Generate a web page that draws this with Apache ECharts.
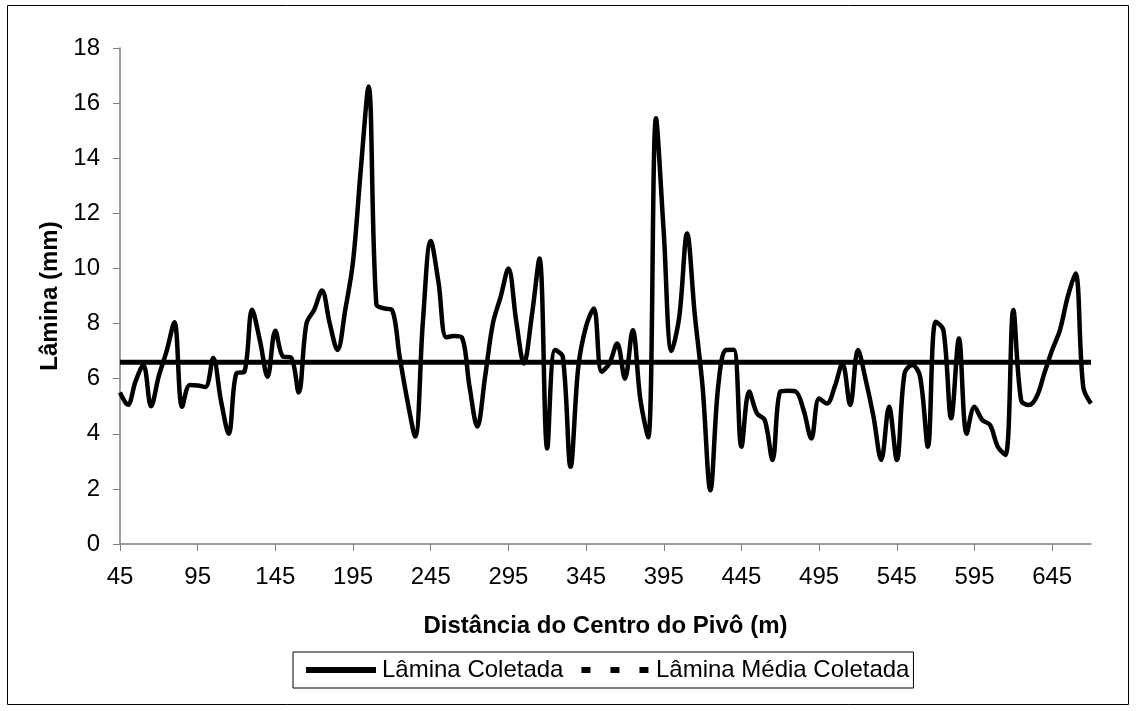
<!DOCTYPE html>
<html>
<head>
<meta charset="utf-8">
<script src="https://cdn.jsdelivr.net/npm/echarts@6/dist/echarts.min.js"></script>
<style>
  html, body { margin: 0; padding: 0; background: #fff; }
  #chart { width: 1136px; height: 711px; }
</style>
</head>
<body>
<div id="chart"></div>
<script>
// distância do centro do pivô (m), de 5 em 5
var distancias = [];
for (var d = 45; d <= 670; d += 5) distancias.push(String(d));

// lâmina coletada (mm)
var laminaColetada = [
  5.5, 5.05, 5.9, 6.5, 5.0, 6.1, 7.0, 8.05, 4.98, 5.77,
  5.75, 5.7, 6.75, 5.2, 4.0, 6.2, 6.25, 8.5, 7.4, 6.07,
  7.74, 6.8, 6.77, 5.5, 8.0, 8.5, 9.2, 8.0, 7.04, 8.5,
  10.25, 13.6, 16.6, 8.7, 8.55, 8.5, 6.8, 5.2, 3.9, 8.1,
  11.0, 9.5, 7.5, 7.55, 7.5, 5.7, 4.26, 6.07, 8.0, 8.97,
  10.0, 8.1, 6.55, 8.25, 10.36, 3.47, 7.04, 6.8, 2.8, 6.43,
  7.9, 8.55, 6.25, 6.55, 7.28, 6.0, 7.76, 5.22, 3.87, 15.45,
  11.3, 7.0, 8.25, 11.27, 8.3, 5.7, 1.95, 5.7, 7.04, 7.05,
  3.53, 5.53, 4.74, 4.5, 3.05, 5.53, 5.56, 5.53, 4.86, 3.83,
  5.28, 5.1, 5.7, 6.55, 5.04, 7.04, 5.95, 4.62, 3.05, 4.98,
  3.05, 6.2, 6.5, 6.07, 3.53, 8.07, 7.76, 4.56, 7.46, 4.0,
  4.98, 4.5, 4.32, 3.53, 3.23, 8.49, 5.22, 5.04, 5.34, 6.2,
  7.04, 7.76, 8.97, 9.82, 5.7, 5.1
];

// lâmina média coletada (mm)
var laminaMedia = 6.6;
var laminaMediaSerie = distancias.map(function () { return laminaMedia; });

var fonte = 'Liberation Sans, Arial, sans-serif';

var chart = echarts.init(document.getElementById('chart'));

var option = {
  animation: false,
  backgroundColor: '#fff',
  textStyle: { fontFamily: fonte },
  graphic: [{
    type: 'rect',
    shape: { x: 7.5, y: 5.5, width: 1121, height: 699 },
    style: { fill: 'none', stroke: '#000', lineWidth: 1 },
    silent: true
  }],
  grid: { left: 120, right: 45, top: 48, bottom: 167 },
  legend: {
    bottom: 23,
    left: 293,
    padding: [6, 4, 6, 13],
    borderColor: '#000',
    borderWidth: 1,
    borderRadius: 0,
    itemWidth: 72,
    itemHeight: 6,
    itemGap: 18,
    textStyle: { fontFamily: fonte, fontSize: 24, color: '#000' },
    data: [
      { name: 'Lâmina Coletada', icon: 'path://M0,0h70v6h-70z' },
      { name: 'Lâmina Média Coletada', icon: 'path://M0,0h9v6h-9z M29,0h9v6h-9z M58,0h9v6h-9z' }
    ]
  },
  xAxis: {
    type: 'category',
    data: distancias,
    boundaryGap: false,
    name: 'Distância do Centro do Pivô (m)',
    nameLocation: 'middle',
    nameGap: 70,
    nameTextStyle: { fontFamily: fonte, fontSize: 24, fontWeight: 'bold', color: '#000' },
    axisLine: { lineStyle: { color: '#808080', width: 1.5 } },
    axisTick: { interval: 9, length: 7, lineStyle: { color: '#808080' } },
    axisLabel: { interval: 9, margin: 21, fontSize: 24, color: '#000', fontFamily: fonte },
    splitLine: { show: false }
  },
  yAxis: {
    type: 'value',
    min: 0,
    max: 18,
    interval: 2,
    name: 'Lâmina (mm)',
    nameLocation: 'middle',
    nameGap: 58,
    nameTextStyle: { fontFamily: fonte, fontSize: 24, fontWeight: 'bold', color: '#000' },
    axisLine: { show: true, lineStyle: { color: '#808080', width: 1.5 } },
    axisTick: { show: true, length: 7, lineStyle: { color: '#808080' } },
    axisLabel: { margin: 20, fontSize: 24, color: '#000', fontFamily: fonte },
    splitLine: { show: false }
  },
  series: [
    {
      name: 'Lâmina Coletada',
      type: 'line',
      data: laminaColetada,
      smooth: 0.35,
      symbol: 'none',
      lineStyle: { color: '#000', width: 4.5 },
      itemStyle: { color: '#000' },
      z: 3
    },
    {
      name: 'Lâmina Média Coletada',
      type: 'line',
      data: laminaMediaSerie,
      symbol: 'none',
      lineStyle: { color: '#000', width: 5 },
      itemStyle: { color: '#000' },
      z: 2
    }
  ]
};

chart.setOption(option);
</script>
</body>
</html>
